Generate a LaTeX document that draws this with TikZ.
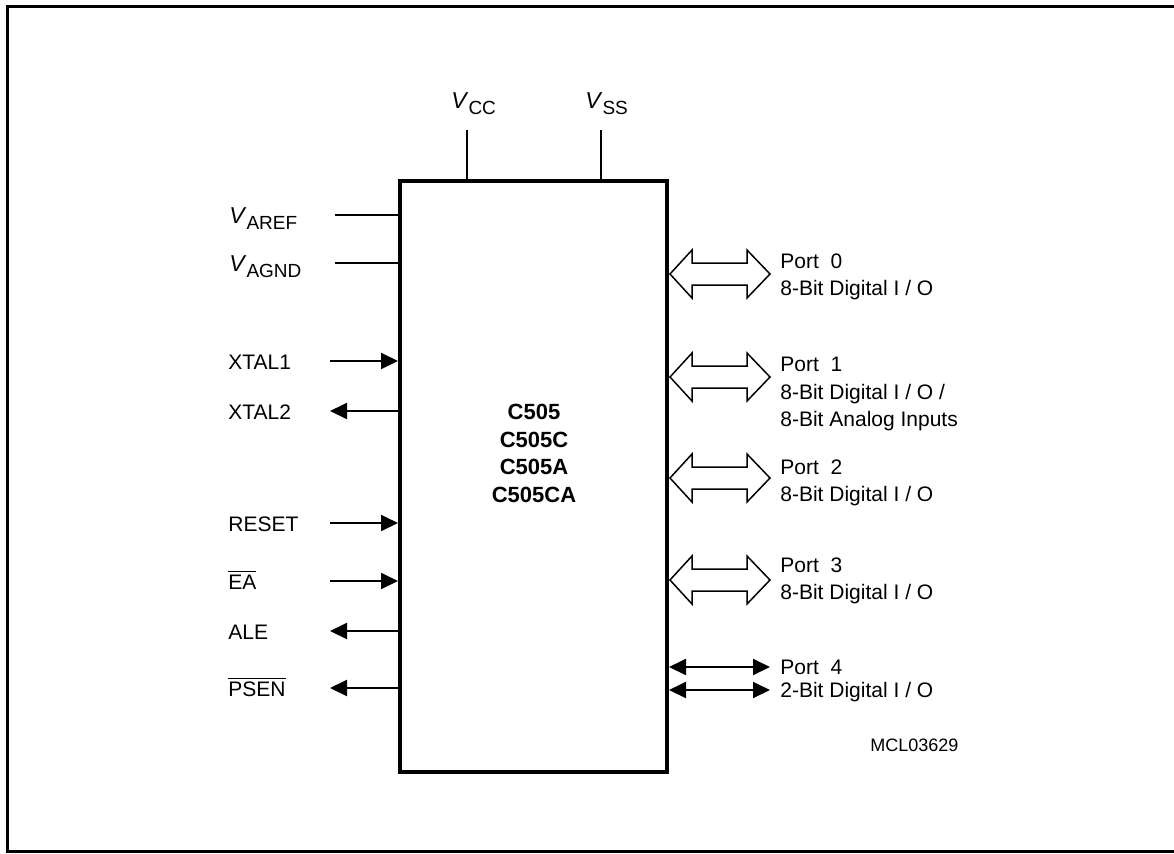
\documentclass[tikz,border=0pt]{standalone}
\usepackage{fontspec}
\setmainfont{Liberation Sans}
\usetikzlibrary{arrows.meta,positioning}

\newcommand{\pinv}[1]{\textit{\fontsize{11.5}{13}\selectfont V}\raisebox{-0.6ex}{\fontsize{9.5}{10}\selectfont #1}}
\newcommand{\busarrow}[1]{%
  \draw[bus] (#1) -- ++(22,24) -- ++(0,-13) -- ++(55,0) -- ++(0,13) -- ++(23,-24)
    -- ++(-23,-24) -- ++(0,13) -- ++(-55,0) -- ++(0,-13) -- cycle;}

\begin{document}
\begin{tikzpicture}[x=0.5pt, y=-0.5pt,
    every node/.style={font=\fontsize{10.5}{13.75}\selectfont, inner sep=0pt},
    chipbox/.style={draw, line width=2pt, minimum width=133.5pt, minimum height=295.5pt},
    pinline/.style={line width=1pt},
    pinarr/.style={line width=1pt, -{Triangle[length=8.5pt,width=8pt]}},
    duplex/.style={line width=1pt, {Triangle[length=8.5pt,width=8pt]}-{Triangle[length=8.5pt,width=8pt]}},
    bus/.style={line width=0.75pt, line join=miter},
    pinlbl/.style={anchor=base west},
    portlbl/.style={anchor=north west, align=left}
]
  \useasboundingbox (0,0) rectangle (1174,853);
  \draw[line width=1.5pt] (1174,6) -- (7,6) -- (7,851) -- (1174,851);

  % chip
  \node[chipbox] (chip) at (533.5,476.5) {};
  \node[align=center, font=\fontsize{11}{13.85}\selectfont\bfseries] (chipname) at (534,453.5)
    {C505\\C505C\\C505A\\C505CA};

  % supply pins
  \coordinate (vcctop) at (467,130);
  \coordinate (vsstop) at (601,130);
  \draw[pinline] (vcctop) -- (vcctop |- chip.north);
  \draw[pinline] (vsstop) -- (vsstop |- chip.north);
  \node[pinlbl] (vcclbl) at (451,108) {\pinv{CC}};
  \node[pinlbl] (vsslbl) at (585,108) {\pinv{SS}};

  % analog reference
  \coordinate (aref) at (335,215);
  \coordinate (agnd) at (335,263);
  \draw[pinline] (aref) -- (aref -| chip.west);
  \draw[pinline] (agnd) -- (agnd -| chip.west);
  \node[pinlbl] (areflbl) at (229,223) {\pinv{AREF}};
  \node[pinlbl] (agndlbl) at (229,271) {\pinv{AGND}};

  % control inputs / outputs
  \foreach \lbl/\y in {XTAL1/361, RESET/523, {$\overline{\mbox{EA}}$}/581}{
    \node[pinlbl] (lbl\y) at (228,\y+8) {\lbl};
    \coordinate (end\y) at (330,\y);
    \draw[pinarr] (end\y) -- (end\y -| chip.west);
  }
  \foreach \lbl/\y in {XTAL2/411, ALE/631, {$\overline{\mbox{PSEN}}$}/688}{
    \node[pinlbl] (lbl\y) at (228,\y+8) {\lbl};
    \coordinate (end\y) at (330,\y);
    \draw[pinarr] (end\y -| chip.west) -- (end\y);
  }

  % ports
  \foreach \y in {274,377,478,580}{
    \coordinate (bus\y) at (670,\y);
    \busarrow{bus\y}
  }
  \node[portlbl] (port0) at (780,253) {Port~~0\\8-Bit Digital I / O};
  \node[portlbl] (port1) at (780,357) {Port~~1\\8-Bit Digital I / O /\\8-Bit Analog Inputs};
  \node[portlbl] (port2) at (780,459) {Port~~2\\8-Bit Digital I / O};
  \node[portlbl] (port3) at (780,557) {Port~~3\\8-Bit Digital I / O};

  \coordinate (p4a) at (669,667);
  \coordinate (p4b) at (669,690);
  \draw[duplex] (p4a) -- ++(101,0) coordinate (p4ae);
  \draw[duplex] (p4b) -- ++(101,0) coordinate (p4be);
  \node[pinlbl] (port4) at (780,674) {Port~~4};
  \node[pinlbl] (port4b) at (780,697) {2-Bit Digital I / O};

  \node[pinlbl, font=\fontsize{9}{11}\selectfont] (code) at (870,751) {MCL03629};
\end{tikzpicture}
\end{document}
